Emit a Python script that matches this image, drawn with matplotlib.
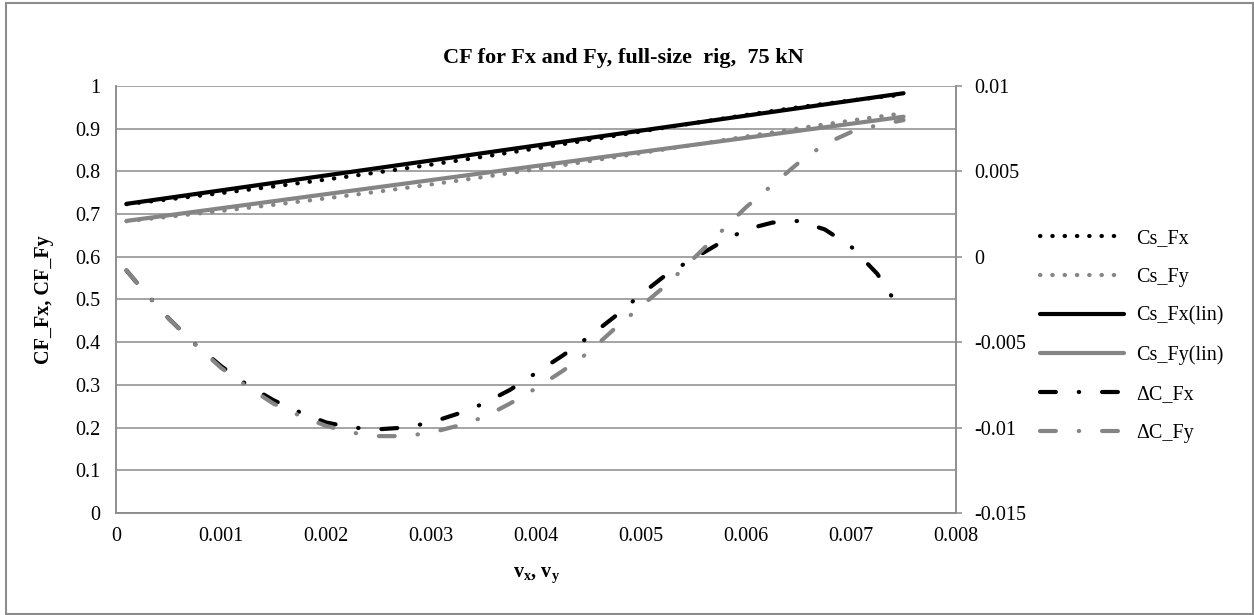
import matplotlib
matplotlib.use("Agg")
import matplotlib.pyplot as plt
from matplotlib.patches import Rectangle

plt.rcParams['font.family'] = ['Liberation Serif', 'DejaVu Serif']
plt.rcParams['mathtext.fontset'] = 'custom'
plt.rcParams['mathtext.rm'] = 'Liberation Serif'
plt.rcParams['mathtext.bf'] = 'Liberation Serif:bold'

# strain (v_x, v_y)
v = [0.0001, 0.00025, 0.0005, 0.00075, 0.001, 0.00125, 0.0015, 0.00175,
     0.002, 0.00225, 0.0025, 0.00275, 0.003, 0.00325, 0.0035, 0.00375,
     0.004, 0.00425, 0.0045, 0.00475, 0.005, 0.00525, 0.0055, 0.00575,
     0.006, 0.00625, 0.0065, 0.00675, 0.007, 0.00725, 0.0075]

cs_fx = [0.7232, 0.7274, 0.7344, 0.7417, 0.7491, 0.7568, 0.7646, 0.7727,
         0.7808, 0.7893, 0.7979, 0.8068, 0.8158, 0.8251, 0.8344, 0.8440,
         0.8537, 0.8635, 0.8733, 0.8833, 0.8933, 0.9033, 0.9129, 0.9226,
         0.9321, 0.9413, 0.9501, 0.9584, 0.9661, 0.9733, 0.9796]
cs_fy = [0.6832, 0.6871, 0.6936, 0.7004, 0.7072, 0.7144, 0.7216, 0.7292,
         0.7368, 0.7447, 0.7527, 0.7610, 0.7694, 0.7781, 0.7868, 0.7959,
         0.8050, 0.8143, 0.8236, 0.8333, 0.8428, 0.8524, 0.8621, 0.8719,
         0.8816, 0.8912, 0.9007, 0.9101, 0.9190, 0.9277, 0.9362]

# linear fits, end points
v_lin = [0.0001, 0.0075]
cs_fx_lin = [0.724, 0.983]
cs_fy_lin = [0.684, 0.928]

# deviation from the linear fit (secondary axis)
dc_fx = [-0.0008, -0.0019, -0.0036, -0.0051, -0.0064, -0.0075, -0.0084, -0.0091,
         -0.0097, -0.0100, -0.0101, -0.0100, -0.0097, -0.0092, -0.0086, -0.0078,
         -0.0068, -0.0058, -0.0047, -0.0035, -0.0022, -0.0010, -0.0001, 0.0008,
         0.0016, 0.0020, 0.0021, 0.0016, 0.0006, -0.0010, -0.0034]
dc_fy = [-0.0008, -0.0019, -0.0036, -0.0051, -0.0065, -0.0076, -0.0086, -0.0093,
         -0.0099, -0.0103, -0.0105, -0.0105, -0.0103, -0.0099, -0.0094, -0.0086,
         -0.0077, -0.0067, -0.0056, -0.0042, -0.0029, -0.0016, -0.0001, 0.0014,
         0.0029, 0.0042, 0.0055, 0.0066, 0.0073, 0.0077, 0.0080]

GREY = '#858585'
GRID = '#8c8c8c'
FS = 14.5

fig = plt.figure(figsize=(12.54, 6.15), dpi=100)
fig.patches.append(Rectangle((0.005, 0.002), 0.994, 0.993, transform=fig.transFigure,
                             fill=False, edgecolor=GRID, linewidth=1.5))

ax = fig.add_axes([0.0925, 0.1659, 0.6699, 0.6943])
ax2 = ax.twinx()

dotted = (0, (0.1, 2.85))
dashdot = (0, (3.8, 5.5, 0.1, 5.5))

h1, = ax.plot(v, cs_fx, color='black', lw=3, linestyle=dotted,
              dash_capstyle='round', label='Cs_Fx')
h2, = ax.plot(v, cs_fy, color=GREY, lw=3, linestyle=dotted,
              dash_capstyle='round', label='Cs_Fy')
h3, = ax.plot(v_lin, cs_fx_lin, color='black', lw=3, solid_capstyle='round',
              label='Cs_Fx(lin)')
h4, = ax.plot(v_lin, cs_fy_lin, color=GREY, lw=3, solid_capstyle='round',
              label='Cs_Fy(lin)')
h5, = ax2.plot(v, dc_fx, color='black', lw=3, linestyle=dashdot,
               dash_capstyle='round', label='\u0394C_Fx')
h6, = ax2.plot(v, dc_fy, color=GREY, lw=3, linestyle=dashdot,
               dash_capstyle='round', label='\u0394C_Fy')

ax.set_xlim(0, 0.008)
ax.set_ylim(0, 1)
ax2.set_ylim(-0.015, 0.01)
ax.set_xticks([i * 0.001 for i in range(9)])
ax.set_xticklabels(['0'] + ['%.3f' % (i * 0.001) for i in range(1, 9)])
ax.set_yticks([i * 0.1 for i in range(11)])
ax.set_yticklabels(['0'] + ['%.1f' % (i * 0.1) for i in range(1, 10)] + ['1'])
ax2.set_yticks([-0.015, -0.01, -0.005, 0, 0.005, 0.01])
ax2.set_yticklabels(['-0.015', '-0.01', '-0.005', '0', '0.005', '0.01'])

ax.grid(axis='y', color=GRID, linewidth=1.1)
ax.set_axisbelow(True)
ax.tick_params(axis='x', length=0, pad=10, labelsize=FS)
ax.tick_params(axis='y', length=0, pad=11, labelsize=FS)
ax2.tick_params(axis='y', length=4, width=1.1, color=GRID, pad=9, labelsize=FS)

for a in (ax, ax2):
    for s in a.spines.values():
        s.set_color(GRID)
        s.set_linewidth(1.1)
    a.spines['top'].set_visible(False)

fig.text(0.497, 0.905, 'CF for Fx and Fy, full-size  rig,  75 kN',
         ha='center', va='center', fontsize=16, fontweight='bold')
fig.text(0.035, 0.1659 + 0.6943 / 2, 'CF_Fx, CF_Fy', rotation=90,
         ha='center', va='center', fontsize=FS, fontweight='bold')
fig.text(0.4275, 0.065, r'$\mathbf{v}_\mathbf{x}$, $\mathbf{v}_\mathbf{y}$',
         ha='center', va='center', fontsize=FS, fontweight='bold')

fig.legend(handles=[h1, h2, h3, h4, h5, h6], loc='center left',
           bbox_to_anchor=(0.829, 0.4537), frameon=False, fontsize=FS,
           handlelength=4.2, handletextpad=0.6, labelspacing=0.98,
           borderpad=0, borderaxespad=0)

fig.savefig('out.png', dpi=100)
